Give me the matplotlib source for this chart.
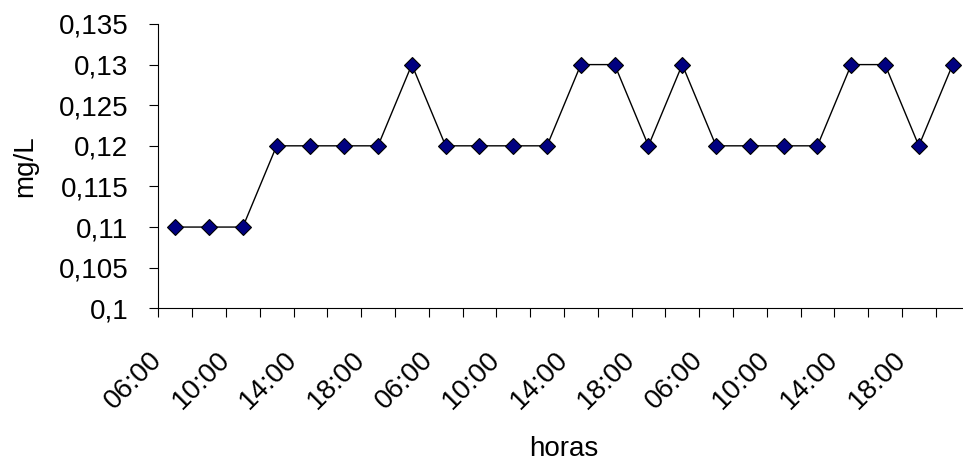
import matplotlib.pyplot as plt
import matplotlib.transforms as mtransforms
from matplotlib.ticker import FuncFormatter

plt.rcParams['font.family'] = 'Liberation Sans'
plt.rcParams['font.size'] = 20

# three days of readings every two hours
horas = ['06:00', '08:00', '10:00', '12:00', '14:00', '16:00', '18:00', '20:00'] * 3
valores = [0.11, 0.11, 0.11, 0.12, 0.12, 0.12, 0.12, 0.13,
           0.12, 0.12, 0.12, 0.12, 0.13, 0.13, 0.12, 0.13,
           0.12, 0.12, 0.12, 0.12, 0.13, 0.13, 0.12, 0.13]

fig = plt.figure(figsize=(9.63, 4.62), dpi=100)
ax = fig.add_axes([0.1644, 0.3327, 0.8424, 0.6154])

x = list(range(len(valores)))
ax.plot(x, valores, color='black', linewidth=1.0, marker='D', markersize=8,
        markerfacecolor='#000080', markeredgecolor='black', markeredgewidth=0.8,
        clip_on=False)

ax.set_xlim(-0.5, len(valores) - 0.5)
ax.set_ylim(0.1, 0.135)
ax.set_yticks([0.1 + 0.005 * i for i in range(8)])
ax.yaxis.set_major_formatter(FuncFormatter(lambda v, p: ('%g' % round(v, 3)).replace('.', ',')))

# ticks between categories, labels on every other category
ax.set_xticks([i - 0.5 for i in range(len(valores) + 1)])
ax.set_xticklabels([])
ax.set_xticks(x[::2], minor=True)
ax.set_xticklabels(horas[::2], minor=True, rotation=45, ha='right', va='center',
                   rotation_mode='anchor')
ax.tick_params(axis='x', which='minor', length=0, pad=34)
ax.tick_params(axis='x', which='major', length=6.5, width=0.8)
ax.tick_params(axis='y', length=6.5, width=0.8, pad=15)

# nudge the slanted hour labels to the left
shift = mtransforms.ScaledTranslation(-17 / 100, 0, fig.dpi_scale_trans)
for lbl in ax.get_xticklabels(minor=True):
    lbl.set_transform(lbl.get_transform() + shift)

for s in ['top', 'right']:
    ax.spines[s].set_visible(False)
ax.spines['left'].set_linewidth(0.8)
ax.spines['bottom'].set_linewidth(0.8)

ax.set_ylabel('mg/L', labelpad=15)
ax.set_xlabel('horas', labelpad=16)

fig.savefig('out.png', dpi=100)
